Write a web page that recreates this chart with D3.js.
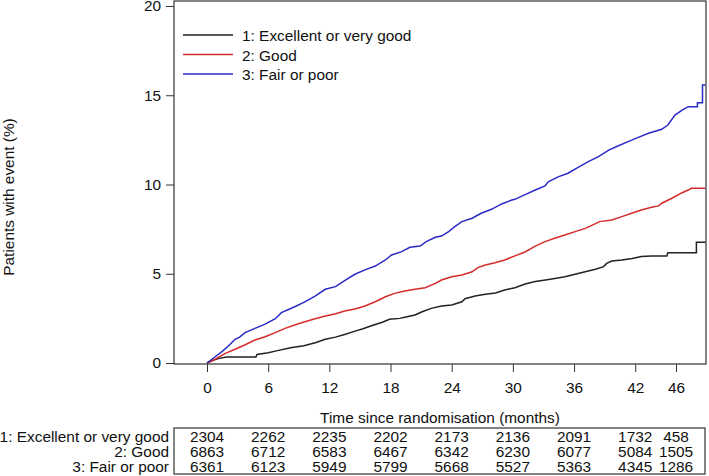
<!DOCTYPE html>
<html><head><meta charset="utf-8">
<script src="https://cdn.jsdelivr.net/npm/d3@7"></script>
<style>
html,body{margin:0;padding:0;background:#fff;}
svg{display:block;font-family:"Liberation Sans",Arial,sans-serif;}
</style></head>
<body><svg id="c" width="709" height="476"></svg>
<script>
const seriesNames = ["1: Excellent or very good", "2: Good", "3: Fair or poor"];
const seriesColors = ["#222222", "#d42c2c", "#2a2ac6"];
const xTicks = [0, 6, 12, 18, 24, 30, 36, 42, 46];
const yTicks = [0, 5, 10, 15, 20];
const atRisk1 = [2304, 2262, 2235, 2202, 2173, 2136, 2091, 1732, 458];
const atRisk2 = [6863, 6712, 6583, 6467, 6342, 6230, 6077, 5084, 1505];
const atRisk3 = [6361, 6123, 5949, 5799, 5668, 5527, 5363, 4345, 1286];

const curve1 = [[0,0],[0.6,0.15],[1.2,0.26],[1.9,0.33],[4.8,0.33],[4.9,0.48],[6.0,0.58],[6.8,0.68],[8.2,0.86],[9.5,0.97],[10.7,1.15],[11.6,1.33],[12.6,1.45],[13.5,1.6],[14.6,1.8],[15.3,1.92],[16.2,2.1],[17.2,2.28],[17.9,2.45],[18.9,2.5],[19.4,2.56],[20.4,2.69],[21.1,2.87],[22.0,3.06],[23.0,3.19],[24.0,3.25],[25.0,3.43],[25.3,3.6],[26.3,3.75],[27.3,3.85],[28.3,3.92],[29.2,4.09],[30.2,4.22],[31.2,4.43],[32.2,4.56],[33.2,4.65],[34.1,4.74],[35.1,4.83],[36.1,4.97],[37.1,5.11],[38.1,5.25],[38.9,5.40],[39.2,5.58],[39.7,5.71],[40.7,5.77],[41.7,5.86],[42.6,5.96],[43.6,5.99],[45.1,5.99],[45.2,6.18],[48.0,6.18],[48.0,6.76],[48.9,6.76]];
const curve2 = [[0,0],[0.8,0.21],[1.8,0.54],[2.75,0.77],[3.7,1.01],[4.7,1.29],[5.7,1.47],[6.7,1.70],[7.65,1.94],[8.6,2.13],[9.6,2.31],[10.6,2.48],[11.6,2.63],[12.55,2.75],[13.5,2.91],[14.5,3.03],[15.5,3.19],[16.5,3.43],[17.5,3.71],[18.4,3.90],[19.4,4.03],[20.4,4.13],[21.4,4.22],[22.4,4.46],[23.0,4.65],[24.0,4.83],[25.0,4.93],[26.0,5.11],[26.6,5.36],[27.3,5.49],[28.25,5.62],[29.2,5.77],[30.2,6.0],[31.2,6.22],[32.2,6.55],[33.15,6.80],[34.1,6.99],[35.1,7.17],[36.1,7.36],[37.1,7.54],[38.05,7.79],[38.5,7.92],[39.7,8.01],[40.7,8.20],[41.65,8.39],[42.6,8.57],[43.6,8.72],[44.3,8.80],[44.6,8.95],[45.6,9.23],[46.6,9.54],[47.2,9.69],[47.5,9.79],[48.9,9.79]];
const curve3 = [[0,0],[0.8,0.35],[1.5,0.65],[2.1,0.95],[2.75,1.33],[3.2,1.45],[3.73,1.70],[4.7,1.94],[5.7,2.18],[6.7,2.48],[7.3,2.82],[8.6,3.15],[9.6,3.42],[10.6,3.75],[11.6,4.13],[12.6,4.28],[13.5,4.61],[14.5,4.97],[15.5,5.22],[16.5,5.43],[17.5,5.77],[18.1,6.05],[19.1,6.24],[19.9,6.48],[20.9,6.55],[21.5,6.80],[22.4,7.04],[23.0,7.11],[23.7,7.36],[24.3,7.64],[25.0,7.92],[26.0,8.11],[26.9,8.39],[27.9,8.61],[28.9,8.91],[29.9,9.13],[30.2,9.17],[31.2,9.43],[32.2,9.69],[33.15,9.92],[33.5,10.16],[34.5,10.44],[35.4,10.63],[36.4,10.96],[37.4,11.28],[38.4,11.56],[39.4,11.93],[40.3,12.16],[41.3,12.40],[42.3,12.64],[43.3,12.87],[44.6,13.09],[45.2,13.33],[45.9,13.89],[46.6,14.17],[47.2,14.36],[48.1,14.36],[48.1,14.58],[48.6,14.58],[48.6,15.57],[48.9,15.57]];

const curves = [curve1, curve2, curve3];
const atRisk = [atRisk1, atRisk2, atRisk3];

const svg = d3.select("#c");
const FS = "15.4px";
const box = {left: 174, top: 1, right: 706, bottom: 364};
const x = d3.scaleLinear().domain([0, 46]).range([207, 676]);
const y = d3.scaleLinear().domain([0, 20]).range([363, 6]);

// y axis
const yAxis = svg.append("g").attr("transform", `translate(${box.left},0)`)
  .call(d3.axisLeft(y).tickValues(yTicks).tickSize(8).tickPadding(5));
yAxis.select(".domain").remove();
yAxis.selectAll("text").attr("font-size", FS).attr("font-family", "Liberation Sans, Arial").attr("fill", "#111");
yAxis.selectAll("line").attr("stroke", "#333");

// x axis
const xAxis = svg.append("g").attr("transform", `translate(0,${box.bottom})`)
  .call(d3.axisBottom(x).tickValues(xTicks).tickSize(8).tickPadding(10));
xAxis.select(".domain").remove();
xAxis.selectAll("text").attr("font-size", FS).attr("font-family", "Liberation Sans, Arial").attr("fill", "#111");
xAxis.selectAll("line").attr("stroke", "#333");

// curves
const line = d3.line().x(d => x(d[0])).y(d => y(d[1]));
curves.forEach((c, i) => {
  svg.append("path").datum(c).attr("d", line)
    .attr("fill", "none").attr("stroke", seriesColors[i]).attr("stroke-width", 1.5)
    .attr("stroke-linejoin", "miter");
});

// plot box
svg.append("rect").attr("x", box.left).attr("y", box.top)
  .attr("width", box.right - box.left).attr("height", box.bottom - box.top)
  .attr("fill", "none").attr("stroke", "#333").attr("stroke-width", 1.2);

// legend
const leg = svg.append("g");
seriesNames.forEach((n, i) => {
  const ly = 35 + i * 19.5;
  leg.append("line").attr("x1", 183).attr("x2", 233).attr("y1", ly).attr("y2", ly)
    .attr("stroke", seriesColors[i]).attr("stroke-width", 1.3);
  leg.append("text").attr("x", 242).attr("y", ly + 6).attr("font-size", FS).attr("fill", "#111").text(n);
});

// axis titles
svg.append("text").attr("transform", "translate(14,197) rotate(-90)")
  .attr("text-anchor", "middle").attr("font-size", FS).attr("fill", "#111")
  .text("Patients with event (%)");
svg.append("text").attr("x", (box.left + box.right) / 2).attr("y", 423)
  .attr("text-anchor", "middle").attr("font-size", FS).attr("fill", "#111")
  .text("Time since randomisation (months)");

// at-risk table
svg.append("rect").attr("x", box.left).attr("y", 428).attr("width", box.right - box.left - 1).attr("height", 46)
  .attr("fill", "none").attr("stroke", "#333").attr("stroke-width", 1.2);
seriesNames.forEach((n, i) => {
  const by = 441.5 + i * 15;
  svg.append("text").attr("x", 169).attr("y", by).attr("text-anchor", "end")
    .attr("font-size", FS).attr("fill", "#111").text(n);
  svg.append("g").selectAll("text").data(atRisk[i]).join("text")
    .attr("x", (d, j) => x(xTicks[j])).attr("y", by)
    .attr("text-anchor", "middle").attr("font-size", FS).attr("fill", "#111")
    .text(d => d);
});
</script></body></html>
